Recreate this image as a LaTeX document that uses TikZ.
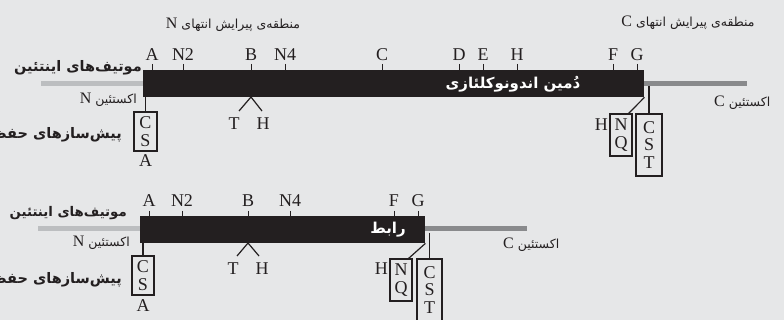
\documentclass[tikz,border=0pt]{standalone}
\usepackage{fontspec}
\setmainfont{Liberation Serif}
\newfontfamily\fa[Script=Arabic]{DejaVu Sans}
\TeXXeTstate=1
\usetikzlibrary{calc}
\definecolor{bg}{HTML}{E6E7E8}
\definecolor{ltgray}{HTML}{BCBEC0}
\definecolor{dkgray}{HTML}{898A8C}
\definecolor{ink}{HTML}{231F20}
\begin{document}
\begin{tikzpicture}[x=1pt,y=-1pt,
  barbox/.style={fill=ink, draw=none, inner sep=0pt, anchor=north west},
  tail1/.style={draw=ltgray, line width=5pt},
  tail2/.style={draw=dkgray, line width=5pt},
  tick/.style={draw=ink, line width=1pt},
  lbl/.style={font=\fontsize{18}{18}\selectfont, text=ink, inner sep=0pt, anchor=base},
  conn/.style={draw=ink, line width=1.2pt},
  seqbox/.style={draw=ink, line width=1.2pt, inner sep=0pt, align=center, text=ink,
     font=\fontsize{18}{17.5}\selectfont},
  pbold/.style={font=\fa\bfseries\fontsize{14.5}{16}\selectfont, text=ink, inner sep=0pt},
  pboldb/.style={font=\fa\bfseries\fontsize{13.3}{15}\selectfont, text=ink, inner sep=0pt},
  pwhite/.style={font=\fa\bfseries\fontsize{15}{16}\selectfont, text=white, inner sep=0pt},
  psmall/.style={font=\fa\fontsize{12.5}{14}\selectfont, text=ink, inner sep=0pt},
  ]
\newcommand{\latN}[1]{{\rmfamily\fontsize{16}{16}\selectfont #1}}
\useasboundingbox (0,0) rectangle (784,320);
\fill[bg] (0,0) rectangle (784,320);

% ---------------- top diagram ----------------
\draw[tail1] (41,84) -- (143,84);
\draw[tail2] (644,84) -- (747,84);
\node[barbox, minimum width=501pt, minimum height=27pt] (bar1) at (143,70) {};
\foreach \x/\t/\n in {152/A/a, 183/N2/b, 251/B/c, 285/N4/d, 382/C/e, 459/D/f, 483/E/g, 517/H/h, 613/F/i, 637/G/j}{
  \draw[tick] (\x,64) -- (\x,70);
  \node[lbl] (t1\n) at (\x,61) {\t};
}
\node[pwhite] (dom1) at (513,84) {\beginR دُمین اندونوکلئازی\endR};
\node[pbold, anchor=east] (mot1) at (142,68) {\beginR موتیف‌های اینتئین\endR};
\node[pbold, anchor=east] (pre1) at (122,135) {\beginR پیش‌سازهای حفظ\endR};
\node[psmall, anchor=east] (ext1n) at (137,100) {\latN{N}\ \beginR اکستئین\endR};
\node[psmall, anchor=west] (ext1c) at (714,103) {\latN{C}\ \beginR اکستئین\endR};
\node[psmall] (reg1n) at (233,25) {\latN{N}\ \beginR منطقه‌ی پیرایش انتهای\endR};
\node[psmall] (reg1c) at (688,23) {\latN{C}\ \beginR منطقه‌ی پیرایش انتهای\endR};

% N-side CSA box
\node[seqbox, minimum width=23pt, minimum height=39pt] (csa1) at (145.5,131.5) {C\\S};
\node[lbl] (a1) at (145.5,167) {A};
\draw[conn] (csa1.north |- bar1.south) -- (csa1.north);
% T/H fork
\coordinate (ap1) at (251,97);
\coordinate (fl1) at (239,111);
\coordinate (fr1) at (262,111);
\draw[conn] (fl1) -- (ap1) -- (fr1);
\node[lbl] (T1) at (234,130) {T};
\node[lbl] (H1) at (263,130) {H};
% C-side boxes
\node[seqbox, minimum width=22pt, minimum height=42pt] (nq1) at (621,135) {N\\Q};
\node[seqbox, minimum width=26pt, minimum height=62pt] (cst1) at (649,145) {C\\S\\T};
\node[lbl, anchor=base east] (hh1) at (608,131) {H};
\coordinate (g1) at (648,86);
\draw[conn] (g1 -| cst1.north) -- (cst1.north);
\draw[conn] (bar1.south east) -- ($(nq1.north east)+(-4,0)$);

% ---------------- bottom diagram ----------------
\draw[tail1] (38,229) -- (140,229);
\draw[tail2] (425,229) -- (527,229);
\node[barbox, minimum width=285pt, minimum height=27pt] (bar2) at (140,216) {};
\foreach \x/\t/\n in {149/A/a, 182/N2/b, 248/B/c, 290/N4/d, 394/F/i, 418/G/j}{
  \draw[tick] (\x,211) -- (\x,216);
  \node[lbl] (t2\n) at (\x,207) {\t};
}
\node[pwhite] (link2) at (388,230) {\beginR رابط\endR};
\node[pboldb, anchor=east] (mot2) at (127,213) {\beginR موتیف‌های اینتئین\endR};
\node[pbold, anchor=east] (pre2) at (122,280) {\beginR پیش‌سازهای حفظ\endR};
\node[psmall, anchor=east] (ext2n) at (130,243) {\latN{N}\ \beginR اکستئین\endR};
\node[psmall, anchor=west] (ext2c) at (503,245) {\latN{C}\ \beginR اکستئین\endR};

\node[seqbox, minimum width=22pt, minimum height=39pt] (csa2) at (143,275.5) {C\\S};
\node[lbl] (a2) at (143,311) {A};
\draw[conn] (csa2.north |- bar2.south) -- (csa2.north);
\coordinate (ap2) at (248,243);
\coordinate (fl2) at (237,256);
\coordinate (fr2) at (259,256);
\draw[conn] (fl2) -- (ap2) -- (fr2);
\node[lbl] (T2) at (233,274) {T};
\node[lbl] (H2) at (262,274) {H};
\node[seqbox, minimum width=22pt, minimum height=42pt] (nq2) at (401,280) {N\\Q};
\node[seqbox, minimum width=25pt, minimum height=62pt] (cst2) at (429.5,290) {C\\S\\T};
\node[lbl, anchor=base east] (hh2) at (388,274) {H};
\coordinate (g2) at (428,233);
\draw[conn] (g2 -| cst2.north) -- (cst2.north);
\draw[conn] (bar2.south east) -- ($(nq2.north east)+(-4,0)$);
\end{tikzpicture}
\end{document}
